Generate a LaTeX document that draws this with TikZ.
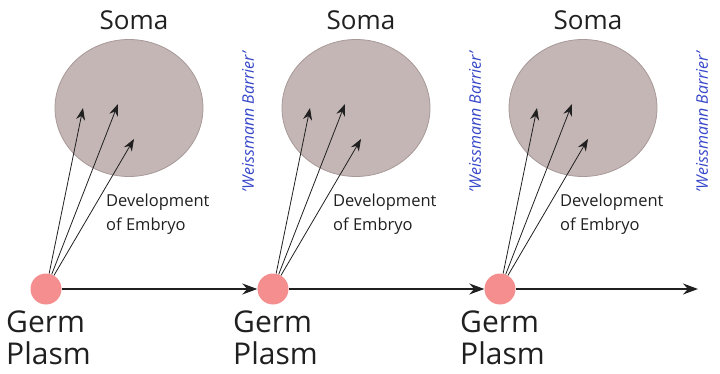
\documentclass[tikz,border=0pt]{standalone}
\usepackage{fontspec}
\setmainfont{Open Sans}
\usetikzlibrary{arrows.meta,shapes.geometric}
\definecolor{somafill}{HTML}{C5B6B6}
\definecolor{somaline}{HTML}{A89999}
\definecolor{germpink}{HTML}{F58F8F}
\definecolor{barrierblue}{HTML}{3646C8}
\definecolor{textdark}{HTML}{202020}

\tikzset{
    somablob/.style={ellipse, fill=somafill, draw=somaline, line width=0.8pt,
        minimum width=148pt, minimum height=137pt, inner sep=0},
    germdot/.style={circle, fill=germpink, minimum size=31pt, inner sep=0},
    devarrow/.style={-{Stealth[length=12pt,width=9pt]}, line width=0.8pt, textdark},
    flowarrow/.style={-{Stealth[length=15pt,width=11pt]}, line width=1.4pt, textdark},
    somalabel/.style={font=\fontsize{26}{28}\selectfont, text=textdark, inner sep=0},
    germlabel/.style={font=\fontsize{30}{32}\selectfont, text=textdark, align=left, inner sep=0},
    devlabel/.style={font=\fontsize{16.5}{24}\selectfont, text=textdark, align=left, inner sep=0},
    barrierlabel/.style={font=\itshape\fontsize{16}{18}\selectfont, text=barrierblue, rotate=90, inner sep=0}
}

\begin{document}
\begin{tikzpicture}[x=1pt, y=-1pt]
    \useasboundingbox (0,0) rectangle (720,374);

    \foreach \i in {0,1,2} {
        \pgfmathsetmacro\x{227*\i}
        \node[somablob] (soma\i) at (129+\x,108) {};
        \node[somalabel, anchor=base] (somatext\i) at (134+\x,30) {Soma};
        \node[germdot] (germ\i) at (46+\x,289) {};
        \node[germlabel, anchor=north west] (germtext\i) at (6+\x,311) {Germ\\Plasm};
        \node[devlabel, anchor=north west] (devtext\i) at (106+\x,194) {Development\\of Embryo};
        \node[barrierlabel] (barrier\i) at (248+\x,122) {'Weissmann Barrier'};

        \coordinate (tipa\i) at (83+\x,108);
        \coordinate (tipb\i) at (118+\x,104);
        \coordinate (tipc\i) at (134+\x,139);
        \draw[devarrow] (germ\i) -- (tipa\i);
        \draw[devarrow] (germ\i) -- (tipb\i);
        \draw[devarrow] (germ\i) -- (tipc\i);
    }

    \foreach \i/\j in {0/1,1/2}
        \draw[flowarrow] (germ\i) -- (germ\j);
    \coordinate (flowend) at (698,289);
    \draw[flowarrow] (germ2) -- (flowend);
\end{tikzpicture}
\end{document}
